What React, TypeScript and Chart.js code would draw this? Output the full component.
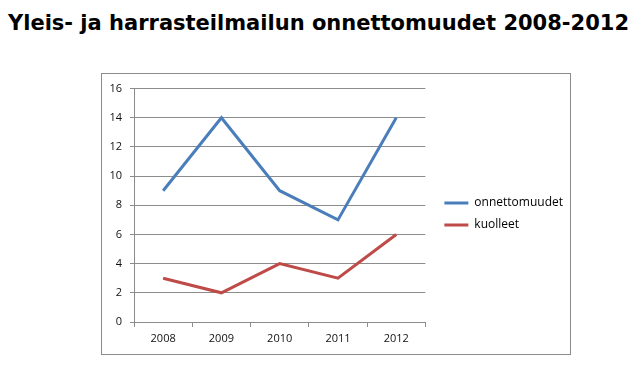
import React, { useEffect, useRef } from "react";
import { Chart, registerables } from "chart.js";

Chart.register(...registerables);

const TITLE = "Yleis- ja harrasteilmailun onnettomuudet 2008-2012";
const categories = ["2008", "2009", "2010", "2011", "2012"];
const onnettomuudet = [9, 14, 9, 7, 14];
const kuolleet = [3, 2, 4, 3, 6];
const seriesNames = ["onnettomuudet", "kuolleet"];

const GRID = "#8c8c8c";
const FONT = "'Open Sans', 'Liberation Sans', sans-serif";

export default function App() {
  const ref = useRef<HTMLCanvasElement | null>(null);

  useEffect(() => {
    document.body.style.margin = "0";
    const canvas = ref.current;
    if (!canvas) return;
    const chart = new Chart(canvas, {
      type: "line",
      data: {
        labels: categories,
        datasets: [
          {
            label: seriesNames[0],
            data: onnettomuudet,
            borderColor: "#4a7ebb",
            backgroundColor: "#4a7ebb",
            borderWidth: 3,
            pointRadius: 0,
            tension: 0,
            yAxisID: "y",
          },
          {
            label: seriesNames[1],
            data: kuolleet,
            borderColor: "#be4b48",
            backgroundColor: "#be4b48",
            borderWidth: 3,
            pointRadius: 0,
            tension: 0,
            yAxisID: "y",
          },
        ],
      },
      options: {
        responsive: false,
        animation: false,
        layout: { padding: { top: 0, left: 0, bottom: 0, right: 67 } },
        plugins: {
          title: {
            display: true,
            text: "",
            padding: 0,
            font: { size: 14, lineHeight: 1 },
          },
          tooltip: { enabled: false },
          legend: {
            position: "right",
            align: "center",
            maxWidth: 200,
            labels: {
              usePointStyle: true,
              pointStyle: "line",
              pointStyleWidth: 24,
              padding: 10,
              color: "#000",
              font: { family: FONT, size: 12 },
            },
          },
        },
        scales: {
          x: {
            type: "category",
            offset: true,
            grid: {
              display: true,
              drawOnChartArea: false,
              drawTicks: true,
              tickLength: 5,
              offset: true,
              color: GRID,
            },
            border: { display: true, color: GRID, width: 1 },
            ticks: {
              color: "#111",
              padding: 5,
              font: { family: FONT, size: 11 },
              maxRotation: 0,
            },
            afterFit: (s: any) => {
              s.height = 32;
            },
          },
          y: {
            position: "left",
            min: 0,
            max: 16,
            grid: {
              color: GRID,
              drawTicks: true,
              tickLength: 4,
            },
            border: { display: true, color: GRID, width: 1 },
            ticks: {
              stepSize: 2,
              color: "#111",
              padding: 8,
              font: { family: FONT, size: 11 },
            },
            afterFit: (s: any) => {
              s.width = 32;
            },
          },
          y2: {
            position: "right",
            display: true,
            grid: { display: false, drawTicks: false },
            border: { display: false },
            ticks: { display: false },
            afterFit: (s: any) => {
              s.width = 9;
            },
          },
        },
      },
    });
    return () => chart.destroy();
  }, []);

  return (
    <div style={{ position: "relative", width: 640, height: 382, background: "#fff", overflow: "hidden" }}>
      <div
        style={{
          position: "absolute",
          left: 8,
          top: 11,
          fontFamily: "'DejaVu Sans', Verdana, sans-serif",
          fontWeight: "bold",
          fontSize: 21,
          whiteSpace: "nowrap",
          color: "#000",
        }}
      >
        {TITLE}
      </div>
      <div
        style={{
          position: "absolute",
          left: 101,
          top: 73,
          width: 470,
          height: 282,
          boxSizing: "border-box",
          border: "1px solid #8c8c8c",
        }}
      />
      <canvas
        ref={ref}
        width={538}
        height={280}
        style={{ position: "absolute", left: 102, top: 74, width: 538, height: 280 }}
      />
    </div>
  );
}
